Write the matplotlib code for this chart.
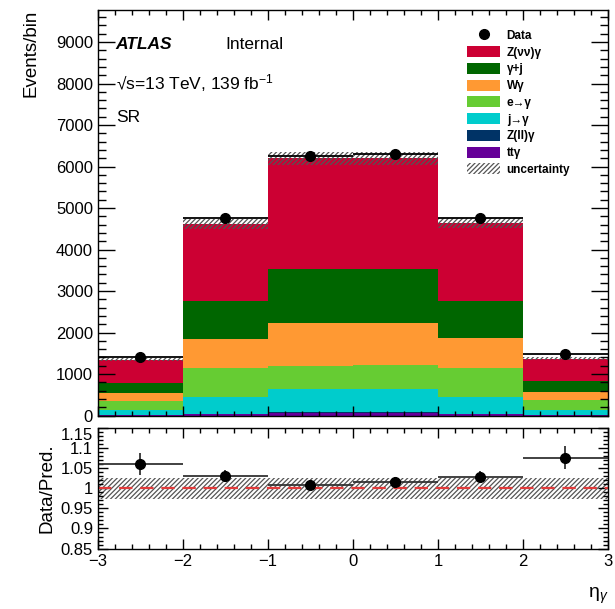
import numpy as np
import matplotlib
matplotlib.use("Agg")
import matplotlib.pyplot as plt
from matplotlib.patches import Patch
from matplotlib.lines import Line2D
from matplotlib.ticker import MultipleLocator, FixedLocator, FuncFormatter

plt.rcParams['font.family'] = ['Liberation Sans', 'DejaVu Sans']
plt.rcParams['mathtext.fontset'] = 'custom'
plt.rcParams['mathtext.rm'] = 'Liberation Sans'
plt.rcParams['mathtext.it'] = 'Liberation Sans:italic'
plt.rcParams['hatch.linewidth'] = 0.9

# binning in eta_gamma
bin_edges = [-3, -2, -1, 0, 1, 2, 3]

# backgrounds, bottom of the stack first
ttgamma = [10, 35, 70, 70, 35, 10]
zllgamma = [5, 10, 15, 15, 10, 5]
jet_fake = [120, 393, 546, 546, 393, 125]
ele_fake = [220, 699, 570, 586, 715, 225]
wgamma = [195, 706, 1020, 1020, 706, 190]
gammajet = [245, 909, 1309, 1285, 909, 275]
znunugamma = [545, 1862, 2667, 2675, 1863, 540]

data = [1422, 4759, 6245, 6300, 4759, 1475]
rel_unc = 0.026  # relative uncertainty of the prediction

samples = [
    ("tt\u03b3", ttgamma, "#660099"),
    ("Z(ll)\u03b3", zllgamma, "#003366"),
    ("j\u2192\u03b3", jet_fake, "#00cccc"),
    ("e\u2192\u03b3", ele_fake, "#66cc33"),
    ("W\u03b3", wgamma, "#ff9933"),
    ("\u03b3+j", gammajet, "#006600"),
    ("Z(\u03bd\u03bd)\u03b3", znunugamma, "#cc0033"),
]

edges = np.array(bin_edges, dtype=float)
centers = 0.5 * (edges[1:] + edges[:-1])
widths = np.diff(edges)
data = np.array(data, dtype=float)

fig = plt.figure(figsize=(6.15, 6.09), dpi=100)
ax = fig.add_axes([0.1593, 0.3177, 0.8293, 0.6658])
rax = fig.add_axes([0.1593, 0.0993, 0.8293, 0.1974], sharex=ax)

bottom = np.zeros(len(centers))
handles = []
for name, vals, col in samples:
    vals = np.array(vals, dtype=float)
    ax.bar(centers, vals, width=widths, bottom=bottom, color=col, linewidth=0)
    bottom += vals
    handles.append(Patch(facecolor=col, edgecolor='none', label=name))
pred = bottom

hatch_col = '#555555'
unc = pred * rel_unc
ax.bar(centers, 2 * unc, width=widths, bottom=pred - unc, fill=False,
       hatch='///////', edgecolor=hatch_col, linewidth=0)
ax.errorbar(centers, data, xerr=widths / 2, yerr=np.sqrt(data), fmt='o',
            color='k', ms=7, elinewidth=1.3, capsize=0)

# ratio panel
ratio = data / pred
ratio_err = np.sqrt(data) / pred
rax.bar(centers, 2 * rel_unc * np.ones(len(centers)), width=widths,
        bottom=1 - rel_unc, fill=False, hatch='///////', edgecolor=hatch_col,
        linewidth=0)
rax.axhline(1.0, color='#e33b3b', ls=(0, (6, 3.5)), lw=1.6)
rax.errorbar(centers, ratio, xerr=widths / 2, yerr=ratio_err, fmt='o',
             color='k', ms=7, elinewidth=1.3, ecolor='#333333', capsize=0)

# axes styling
ax.set_xlim(-3, 3)
ax.set_ylim(0, 9770)
rax.set_ylim(0.85, 1.15)

for a in (ax, rax):
    a.tick_params(which='both', direction='in', top=True, right=True,
                  labelsize=12, width=1)
    a.xaxis.set_major_locator(MultipleLocator(1))
    a.xaxis.set_minor_locator(MultipleLocator(0.2))
    for s in a.spines.values():
        s.set_linewidth(1)

ax.yaxis.set_major_locator(MultipleLocator(1000))
ax.yaxis.set_minor_locator(MultipleLocator(200))
ax.tick_params(axis='y', which='major', length=12)
ax.tick_params(axis='y', which='minor', length=6)
ax.tick_params(axis='x', which='major', length=7)
ax.tick_params(axis='x', which='minor', length=3.5)
ax.tick_params(axis='x', labelbottom=False)

rax.yaxis.set_major_locator(FixedLocator([0.85, 0.9, 0.95, 1.0, 1.05, 1.1, 1.15]))
rax.yaxis.set_minor_locator(MultipleLocator(0.01))
rax.yaxis.set_major_formatter(FuncFormatter(lambda v, p: f"{v:g}"))
rax.tick_params(axis='y', which='major', length=7)
rax.tick_params(axis='y', which='minor', length=3.5)
rax.tick_params(axis='x', which='major', length=7, pad=4)
rax.tick_params(axis='x', which='minor', length=3.5)

fig.canvas.draw()
rax.get_yticklabels()[-1].set_va('top')

ax.set_ylabel("Events/bin", fontsize=13.5, loc='top', labelpad=12)
rax.set_ylabel("Data/Pred.", fontsize=13.5, labelpad=4)
rax.set_xlabel("\u03b7$_{\u03b3}$", fontsize=14, loc='right', labelpad=12)

ax.text(0.035, 0.915, "ATLAS", transform=ax.transAxes, fontsize=12.5,
        fontweight='bold', fontstyle='italic', va='center')
ax.text(0.25, 0.915, "Internal", transform=ax.transAxes, fontsize=12.5,
        va='center')
ax.text(0.035, 0.82, "\u221as=13 TeV, 139 fb$^{-1}$", transform=ax.transAxes,
        fontsize=12.5, va='center')
ax.text(0.035, 0.735, "SR", transform=ax.transAxes, fontsize=12.5, va='center')

leg_handles = [Line2D([], [], marker='o', color='k', ls='none', ms=7, label='Data')]
leg_handles += handles[::-1]
leg_handles.append(Patch(facecolor='none', edgecolor=hatch_col, hatch='///////',
                         linewidth=0, label='uncertainty'))
ax.legend(handles=leg_handles, loc='upper left', bbox_to_anchor=(0.71, 0.97),
          frameon=False, prop={'size': 8.5, 'weight': 'bold'},
          handlelength=2.8, handleheight=1.05, labelspacing=0.36,
          handletextpad=0.55, borderaxespad=0.2)

fig.savefig("out.png", dpi=100)
